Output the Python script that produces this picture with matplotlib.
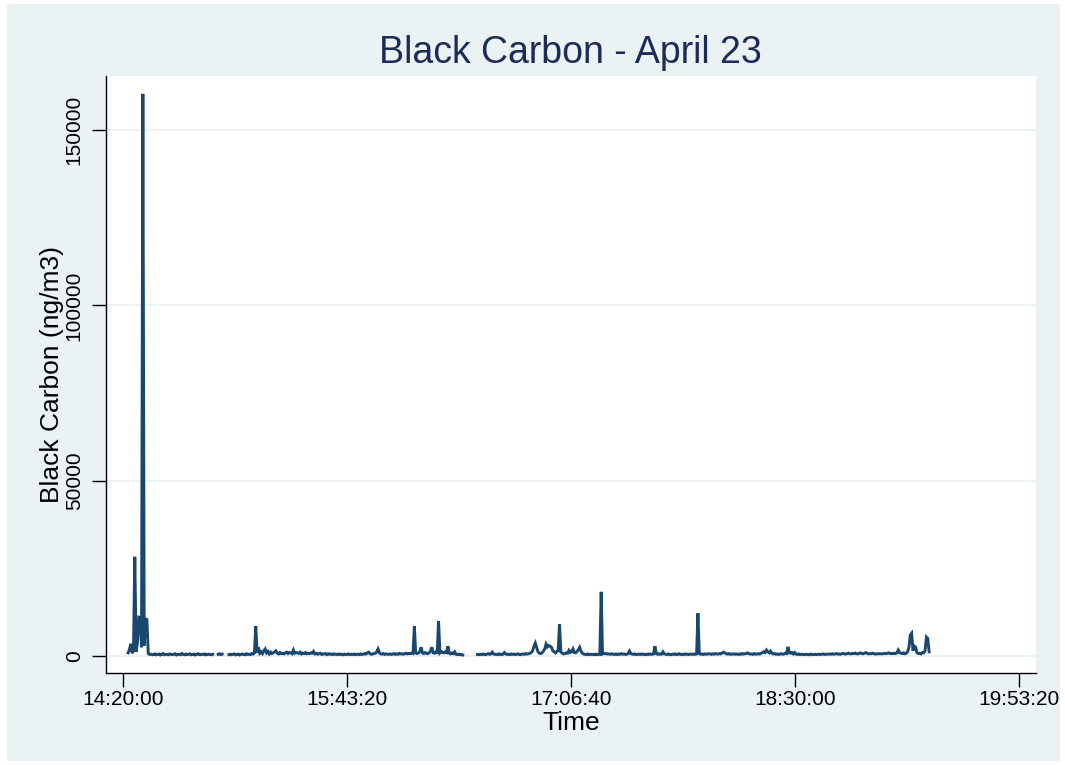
import numpy as np
import matplotlib
matplotlib.use("Agg")
import matplotlib.pyplot as plt
from matplotlib.patches import Rectangle
from matplotlib.ticker import FixedLocator, FuncFormatter

plt.rcParams['font.family'] = ['Liberation Sans', 'DejaVu Sans']

# Clock reference: 14:20:00 in seconds of the day
T0 = 14 * 3600 + 20 * 60
STEP_MIN = 0.5   # sampling interval, minutes

# Segment 1: 14:22:00 onward (ng/m3), half-minute samples
seg1_start = 2.0
seg1_bc = [
    900, 1800, 3500, 800, 1500, 28300, 1200, 4000, 11100, 11000,
    2500, 160300, 3000, 10500, 10400, 700, 450,
    520, 380, 450, 610, 330, 480, 560, 290, 440, 700,
    380, 510, 420, 350, 600, 470, 390, 530, 640, 310,
    450, 500, 380, 720, 460, 350, 580, 410, 490, 630,
    360, 440, 550, 300, 470, 680, 420, 390, 510, 450,
    600, 340, 480, 530, 410, 370, 500,
]

# Short isolated record
seg2_start = 35.5
seg2_bc = [500, 650, 420, 550]

# Segment 3
seg3_start = 39.5
seg3_bc = [
    400, 520, 360, 480, 610, 350, 450, 540, 300, 470, 580, 420, 380, 650, 460, 510, 390, 700, 560, 900,
    8540, 900, 2500, 800, 1200, 700, 1500, 2000, 900, 1300, 600, 1100, 700, 900, 1200, 1500, 800, 600, 1000, 700,
    800, 600, 900, 1100, 700, 1000, 900, 650, 1700, 800, 1000, 900, 750, 1100, 600, 850, 700, 1000, 650, 800,
    700, 900, 800, 1300, 600, 750, 500, 650, 800, 450, 600, 550, 700, 400, 650, 500, 580, 420, 620, 480,
    520, 380, 600, 450, 500, 350, 560, 420, 480, 610, 390, 500, 440, 570, 360, 480, 530, 410, 600, 450,
    500, 700, 550, 900, 1100, 650, 500, 600, 700, 800, 1200, 2000, 900, 600, 550, 700, 450, 600, 520, 480,
    600, 450, 550, 700, 480, 620, 500, 750, 580, 650, 520, 700, 800, 600, 750, 680, 820, 700, 8500, 900,
    700, 850, 1200, 2500, 900, 700, 1000, 800, 650, 900, 1400, 2500, 900, 800, 1200, 700, 10000, 900, 1300, 1000,
    900, 1200, 1000, 2800, 800, 600, 900, 700, 1200, 500, 400, 550, 350, 450, 300,
]

# Segment 4
seg4_start = 132.0
seg4_bc = [
    450, 380, 520, 400, 600, 480, 350, 550, 700, 500, 600, 1100, 600, 450, 520, 400, 650, 480, 380, 550,
    1000, 600, 450, 520, 380, 600, 480, 550, 420, 500, 650, 450, 380, 520, 600, 480, 700, 550, 650, 800,
    1000, 1500, 2800, 3700, 2500, 1200, 800, 700, 900, 1400, 2000, 3400, 2600, 3000, 2800, 2500, 1500, 1200, 900, 1300,
    1500, 9100, 1200, 800, 600, 700, 900, 800, 1600, 1000, 1200, 2000, 1000, 900, 1300, 1800, 2500, 1400, 800, 550,
    500, 420, 600, 380, 520, 450, 480, 350, 550, 400, 500, 450, 18300, 600, 800, 650, 700, 550, 600, 500,
    650, 500, 450, 600, 420, 550, 480, 700, 520, 600, 450, 500, 650, 1400, 700, 550, 480, 600, 420, 500,
    550, 420, 600, 480, 500, 380, 550, 450, 620, 500, 480, 600, 2800, 700, 500, 650, 480, 550, 1200, 600,
    500, 420, 600, 450, 380, 550, 480, 620, 400, 500, 650, 450, 520, 380, 600, 480, 550, 420, 500, 600,
    450, 550, 480, 600, 12200, 700, 500, 580, 450, 620, 500, 550, 700, 600, 480, 650, 520, 700, 600, 550,
    700, 600, 850, 1100, 900, 650, 550, 700, 480, 600, 520, 650, 500, 580, 450, 620, 500, 700, 550, 650,
    750, 900, 650, 550, 600, 480, 700, 520, 600, 650, 550, 800, 1000, 1200, 1000, 1700, 1200, 900, 1400, 800,
    600, 700, 500, 600, 450, 550, 650, 500, 600, 800, 700, 2600, 900, 800, 1000, 600, 1000, 550, 450, 600,
    400, 520, 450, 380, 500, 420, 480, 350, 550, 450, 400, 500, 380, 470, 520, 430, 500, 600, 450, 520,
    480, 550, 600, 500, 650, 520, 580, 700, 550, 620, 500, 650, 750, 600, 550, 700, 820, 650, 600, 750,
    700, 850, 650, 600, 780, 900, 700, 650, 800, 1000, 750, 600, 700, 650, 800, 700, 550, 650, 600, 700,
    650, 600, 700, 750, 650, 800, 900, 700, 750, 650, 800, 700, 900, 1700, 1000, 800, 700, 900, 650, 800,
    1200, 2500, 6000, 6500, 1500, 2800, 2500, 900, 700, 800, 600, 1000, 900, 1500, 5400, 5000, 1200,
]

y_ticks = [0, 50000, 100000, 150000]
x_ticks = [T0 + 5000 * k for k in range(5)]

NAVY = '#1a476f'
BG = '#eaf2f3'
TITLE_C = '#1c2b58'


def seg_times(start, values):
    return T0 + 60.0 * (start + STEP_MIN * np.arange(len(values)))


def hms(x, pos=None):
    s = int(round(x))
    return f"{s // 3600:02d}:{(s % 3600) // 60:02d}:{s % 60:02d}"


fig = plt.figure(figsize=(10.65, 7.65), dpi=100, facecolor='white')
fig.patches.append(Rectangle((7 / 1065, 4 / 765), 1053 / 1065, 757 / 765,
                             transform=fig.transFigure, facecolor=BG,
                             edgecolor='none', zorder=-10))

ax = fig.add_axes([106 / 1065, 1 - 673 / 765, 930 / 1065, 597 / 765])
ax.set_facecolor('white')

for start, vals in [(seg1_start, seg1_bc), (seg2_start, seg2_bc),
                    (seg3_start, seg3_bc), (seg4_start, seg4_bc)]:
    ax.plot(seg_times(start, vals), vals, color=NAVY, lw=2.1,
            solid_joinstyle='miter', zorder=3)

ax.set_xlim(T0 - 373, T0 + 20000 + 386)
ax.set_ylim(-4840, 165400)

ax.yaxis.set_major_locator(FixedLocator(y_ticks))
ax.xaxis.set_major_locator(FixedLocator(x_ticks))
ax.xaxis.set_major_formatter(FuncFormatter(hms))
ax.yaxis.set_major_formatter(FuncFormatter(lambda v, p: f"{int(v)}"))

ax.grid(axis='y', color=BG, lw=1.5, zorder=0)
ax.set_axisbelow(True)

for side in ('top', 'right'):
    ax.spines[side].set_visible(False)
for side in ('left', 'bottom'):
    ax.spines[side].set_color('black')
    ax.spines[side].set_linewidth(1.0)

ax.tick_params(axis='both', direction='out', length=10, width=1.0,
               color='black', labelsize=15, labelcolor='black')
ax.tick_params(axis='x', pad=2)
ax.tick_params(axis='y', pad=6)
for lab in ax.get_yticklabels():
    lab.set_rotation(90)
    lab.set_va('center')

ax.set_xlabel('Time', fontsize=19, color='black')
ax.xaxis.set_label_coords(0.5, -0.064)
ax.set_ylabel('Black Carbon (ng/m3)', fontsize=19, color='black')
ax.yaxis.set_label_coords(-0.045, 0.5)

fig.text(570 / 1065, 1 - 53 / 765, 'Black Carbon - April 23', fontsize=27,
         color=TITLE_C, ha='center', va='center')

fig.savefig('out.png', dpi=100, facecolor='white')
